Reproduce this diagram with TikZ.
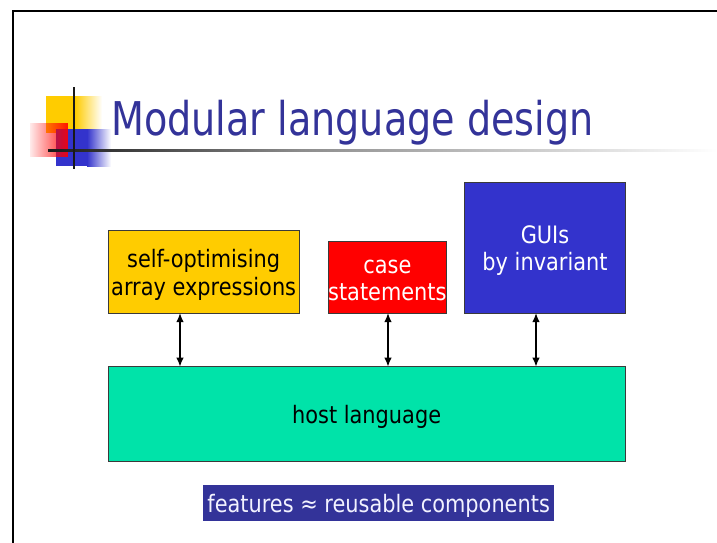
\documentclass[tikz,border=0pt]{standalone}
\usepackage{fontspec}
\setmainfont{DejaVu Sans}[FakeStretch=0.82]
\newfontfamily\boxfont{DejaVu Sans}[FakeStretch=0.87]
\usetikzlibrary{arrows.meta,fadings}
\definecolor{titleblue}{HTML}{333399}
\definecolor{boxyellow}{HTML}{FFCC00}
\definecolor{boxred}{HTML}{FF0000}
\definecolor{boxblue}{HTML}{3333CC}
\definecolor{boxgreen}{HTML}{00E3A9}
\definecolor{edgegray}{HTML}{3A3A3A}
\tikzfading[name=redfade, left color=transparent!92, right color=transparent!10]
\newcommand{\lowr}[1]{\raisebox{-3pt}[\height][\depth]{#1}}
\begin{document}
\begin{tikzpicture}[x=1pt,y=-1pt,
  box/.style={draw=edgegray, line width=0.9pt, inner sep=0pt, outer sep=0pt, anchor=north west,
    align=center, font=\boxfont\fontsize{24}{27.5}\selectfont},
  dbl/.style={{Latex[length=9pt,width=7.5pt]}-{Latex[length=9pt,width=7.5pt]}, line width=1.5pt, black}]
\useasboundingbox (0,0) rectangle (717,543);
\fill[white] (0,0) rectangle (717,543);
% slide frame
\draw[line width=2.2pt] (13,543) -- (13,11) -- (717,11);
% logo
\fill[boxyellow] (46,96) rectangle (75,133);
\shade[left color=boxyellow, right color=white] (75,96) rectangle (102,133);
\fill[boxblue] (56,129) rectangle (87,166);
\shade[left color=boxblue, right color=white] (87,129) rectangle (111,166);
\fill[boxred, path fading=redfade] (30,123) rectangle (68,157);
\shade[left color=black!90, right color=black!45] (48,149) rectangle (300,151.6);
\shade[left color=black!45, right color=white] (300,149) rectangle (717,151.6);
\draw[line width=2.7pt, black!90] (74,87) -- (74,169);
% title
\node[anchor=base west, inner sep=0pt, text=titleblue, font=\fontsize{46.5}{50}\selectfont] (title) at (111,135.7) {Modular language design};
% boxes
\node[box, fill=boxyellow, minimum width=190.7pt, minimum height=82.7pt] (yel) at (108.3,230.3) {\lowr{self-optimising}\\\lowr{array expressions}};
\node[box, fill=boxred, text=white, minimum width=118.7pt, minimum height=71.3pt] (red) at (328,241.7) {\lowr{case}\\\lowr{statements}};
\node[box, fill=boxblue, text=white, minimum width=161.4pt, minimum height=130.7pt] (blu) at (464.3,182.3) {\lowr{GUIs}\\\lowr{by invariant}};
\node[box, fill=boxgreen, minimum width=516.7pt, minimum height=95pt] (host) at (108.3,366.7) {\lowr{host language}};
\node[box, draw=none, fill=titleblue, text=white!95!blue, minimum width=350.7pt, minimum height=35.7pt] (lab) at (203.3,485) {\lowr{features ≈ reusable components}};
% arrows
\coordinate (a1) at (180,0);
\coordinate (a2) at (388,0);
\coordinate (a3) at (536,0);
\draw[dbl] (yel.south -| a1) -- (host.north -| a1);
\draw[dbl] (red.south -| a2) -- (host.north -| a2);
\draw[dbl] (blu.south -| a3) -- (host.north -| a3);
\end{tikzpicture}
\end{document}
